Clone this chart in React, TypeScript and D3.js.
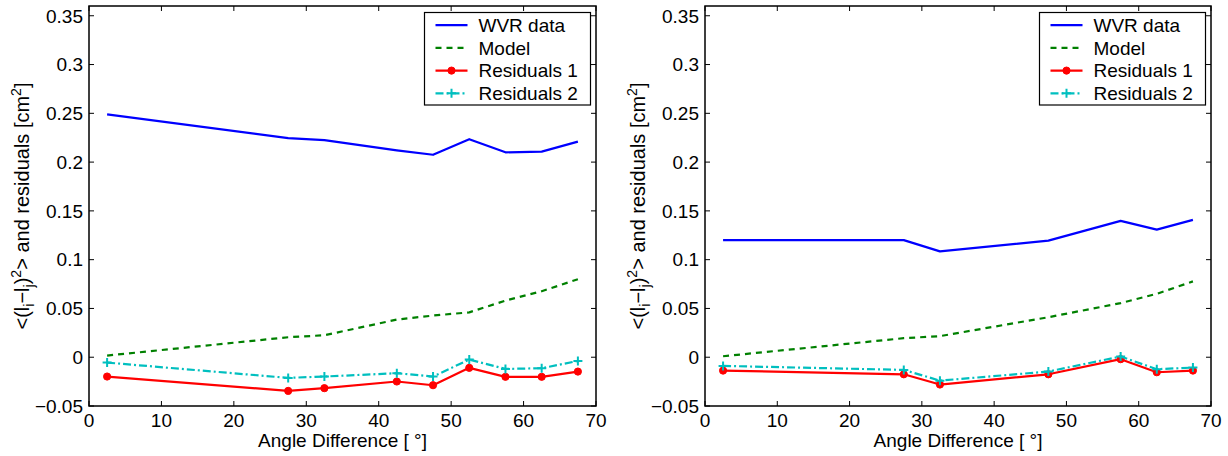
import React from "react";
import * as d3 from "d3";

const W = 1228;
const H = 456;
const FONT = "'Liberation Sans', Arial, Helvetica, sans-serif";
const FS = 19;

const X_TICKS = [0, 10, 20, 30, 40, 50, 60, 70];
const Y_TICKS = [-0.05, 0, 0.05, 0.1, 0.15, 0.2, 0.25, 0.3, 0.35];
const LEGEND_LABELS = ["WVR data", "Model", "Residuals 1", "Residuals 2"];

// left panel
const ANGLE_L = [2.5, 27.5, 32.5, 42.5, 47.5, 52.5, 57.5, 62.5, 67.5];
const WVR_L = [0.249, 0.2246, 0.2225, 0.212, 0.2075, 0.2235, 0.21, 0.2107, 0.221];
const MODEL_L = [0.0017, 0.0205, 0.0225, 0.0386, 0.0427, 0.046, 0.058, 0.0676, 0.08];
const RES1_L = [-0.0198, -0.0345, -0.0317, -0.0249, -0.0287, -0.0109, -0.0201, -0.0201, -0.0147];
const RES2_L = [-0.0055, -0.0212, -0.0198, -0.0164, -0.0198, -0.0024, -0.012, -0.0113, -0.0038];

// right panel
const ANGLE_R = [2.5, 27.5, 32.5, 47.5, 57.5, 62.5, 67.5];
const WVR_R = [0.12, 0.12, 0.1085, 0.1195, 0.1397, 0.1308, 0.1408];
const MODEL_R = [0.001, 0.0195, 0.0216, 0.041, 0.0555, 0.065, 0.0777];
const RES1_R = [-0.0137, -0.0175, -0.028, -0.0175, -0.002, -0.0154, -0.0137];
const RES2_R = [-0.0089, -0.013, -0.024, -0.0147, 0.0007, -0.0123, -0.0106];

const STYLES = [
  { color: "#0000ff", dash: undefined, marker: "none" },
  { color: "#008000", dash: "6,5", marker: "none" },
  { color: "#ff0000", dash: undefined, marker: "dot" },
  { color: "#00bfbf", dash: "8,3,2,3", marker: "plus" },
];

const TOP = 6;
const BOTTOM = 406;
const TICK = 5;

const fmt = (v: number) => (v === 0 ? "0" : d3.format("~g")(+v.toFixed(3)));

type PanelProps = {
  left: number;
  right: number;
  angles: number[];
  series: number[][];
};

const Marker = ({ kind, x, y, color }: { kind: string; x: number; y: number; color: string }) => {
  if (kind === "dot") return <circle cx={x} cy={y} r={3.6} fill={color} stroke={color} strokeWidth={1} />;
  if (kind === "plus")
    return (
      <path d={`M${x - 4.5},${y}H${x + 4.5}M${x},${y - 4.5}V${y + 4.5}`} stroke={color} strokeWidth={2} />
    );
  return null;
};

const Panel = ({ left, right, angles, series }: PanelProps) => {
  const x = d3.scaleLinear().domain([0, 70]).range([left, right]);
  const y = d3.scaleLinear().domain([-0.05, 0.36]).range([BOTTOM, TOP]);
  const line = d3
    .line<number>()
    .x((_, i) => x(angles[i]))
    .y((d) => y(d));

  const lgW = 166;
  const lgH = 92.5;
  const lgX = right - 5.5 - lgW;
  const lgY = 12.5;
  const cx = (left + right) / 2;
  const cy = (TOP + BOTTOM) / 2;
  const labX = left - 60;

  return (
    <g fontFamily={FONT} fill="#000">
      {/* series */}
      {series.map((vals, s) => (
        <g key={s}>
          <path
            d={line(vals) || ""}
            fill="none"
            stroke={STYLES[s].color}
            strokeWidth={2.2}
            strokeDasharray={STYLES[s].dash}
            strokeLinejoin="round"
          />
          {vals.map((v, i) => (
            <Marker key={i} kind={STYLES[s].marker} x={x(angles[i])} y={y(v)} color={STYLES[s].color} />
          ))}
        </g>
      ))}

      {/* box + ticks */}
      <rect x={left} y={TOP} width={right - left} height={BOTTOM - TOP} fill="none" stroke="#000" strokeWidth={1.5} />
      {X_TICKS.map((t) => (
        <g key={"x" + t}>
          <line x1={x(t)} x2={x(t)} y1={BOTTOM} y2={BOTTOM - TICK} stroke="#000" />
          <line x1={x(t)} x2={x(t)} y1={TOP} y2={TOP + TICK} stroke="#000" />
          <text x={x(t)} y={427} fontSize={FS} textAnchor="middle">
            {t}
          </text>
        </g>
      ))}
      {Y_TICKS.map((t) => (
        <g key={"y" + t}>
          <line x1={left} x2={left + TICK} y1={y(t)} y2={y(t)} stroke="#000" />
          <line x1={right} x2={right - TICK} y1={y(t)} y2={y(t)} stroke="#000" />
          <text x={left - 6} y={y(t)} dy="0.36em" fontSize={FS} textAnchor="end">
            {fmt(t)}
          </text>
        </g>
      ))}

      {/* axis titles */}
      <text x={cx} y={447} fontSize={FS} textAnchor="middle">
        Angle Difference [ °]
      </text>
      <text transform={`translate(${labX},${cy}) rotate(-90)`} fontSize={20} textAnchor="middle">
        <tspan>&lt;(l</tspan>
        <tspan fontSize={14} dy={5}>i</tspan>
        <tspan dy={-5}>−l</tspan>
        <tspan fontSize={14} dy={5}>j</tspan>
        <tspan dy={-5}>)</tspan>
        <tspan fontSize={14} dy={-8}>2</tspan>
        <tspan dy={8}>&gt; and residuals [cm</tspan>
        <tspan fontSize={14} dy={-8}>2</tspan>
        <tspan dy={8}>]</tspan>
      </text>

      {/* legend */}
      <rect x={lgX} y={lgY} width={lgW} height={lgH} fill="#fff" stroke="#000" strokeWidth={1.2} />
      {LEGEND_LABELS.map((lab, i) => {
        const ry = lgY + 12.7 + i * 22.7;
        const st = STYLES[i];
        return (
          <g key={lab}>
            <line
              x1={lgX + 11}
              x2={lgX + 43}
              y1={ry}
              y2={ry}
              stroke={st.color}
              strokeWidth={2.2}
              strokeDasharray={st.dash}
            />
            <Marker kind={st.marker} x={lgX + 27} y={ry} color={st.color} />
            <text x={lgX + 54} y={ry} dy="0.36em" fontSize={FS}>
              {lab}
            </text>
          </g>
        );
      })}
    </g>
  );
};

export default function App() {
  return (
    <svg width={W} height={H} style={{ position: "absolute", left: 0, top: 0, background: "#fff" }}>
      <rect width={W} height={H} fill="#fff" />
      <Panel left={89} right={596} angles={ANGLE_L} series={[WVR_L, MODEL_L, RES1_L, RES2_L]} />
      <Panel left={705} right={1211} angles={ANGLE_R} series={[WVR_R, MODEL_R, RES1_R, RES2_R]} />
    </svg>
  );
}
